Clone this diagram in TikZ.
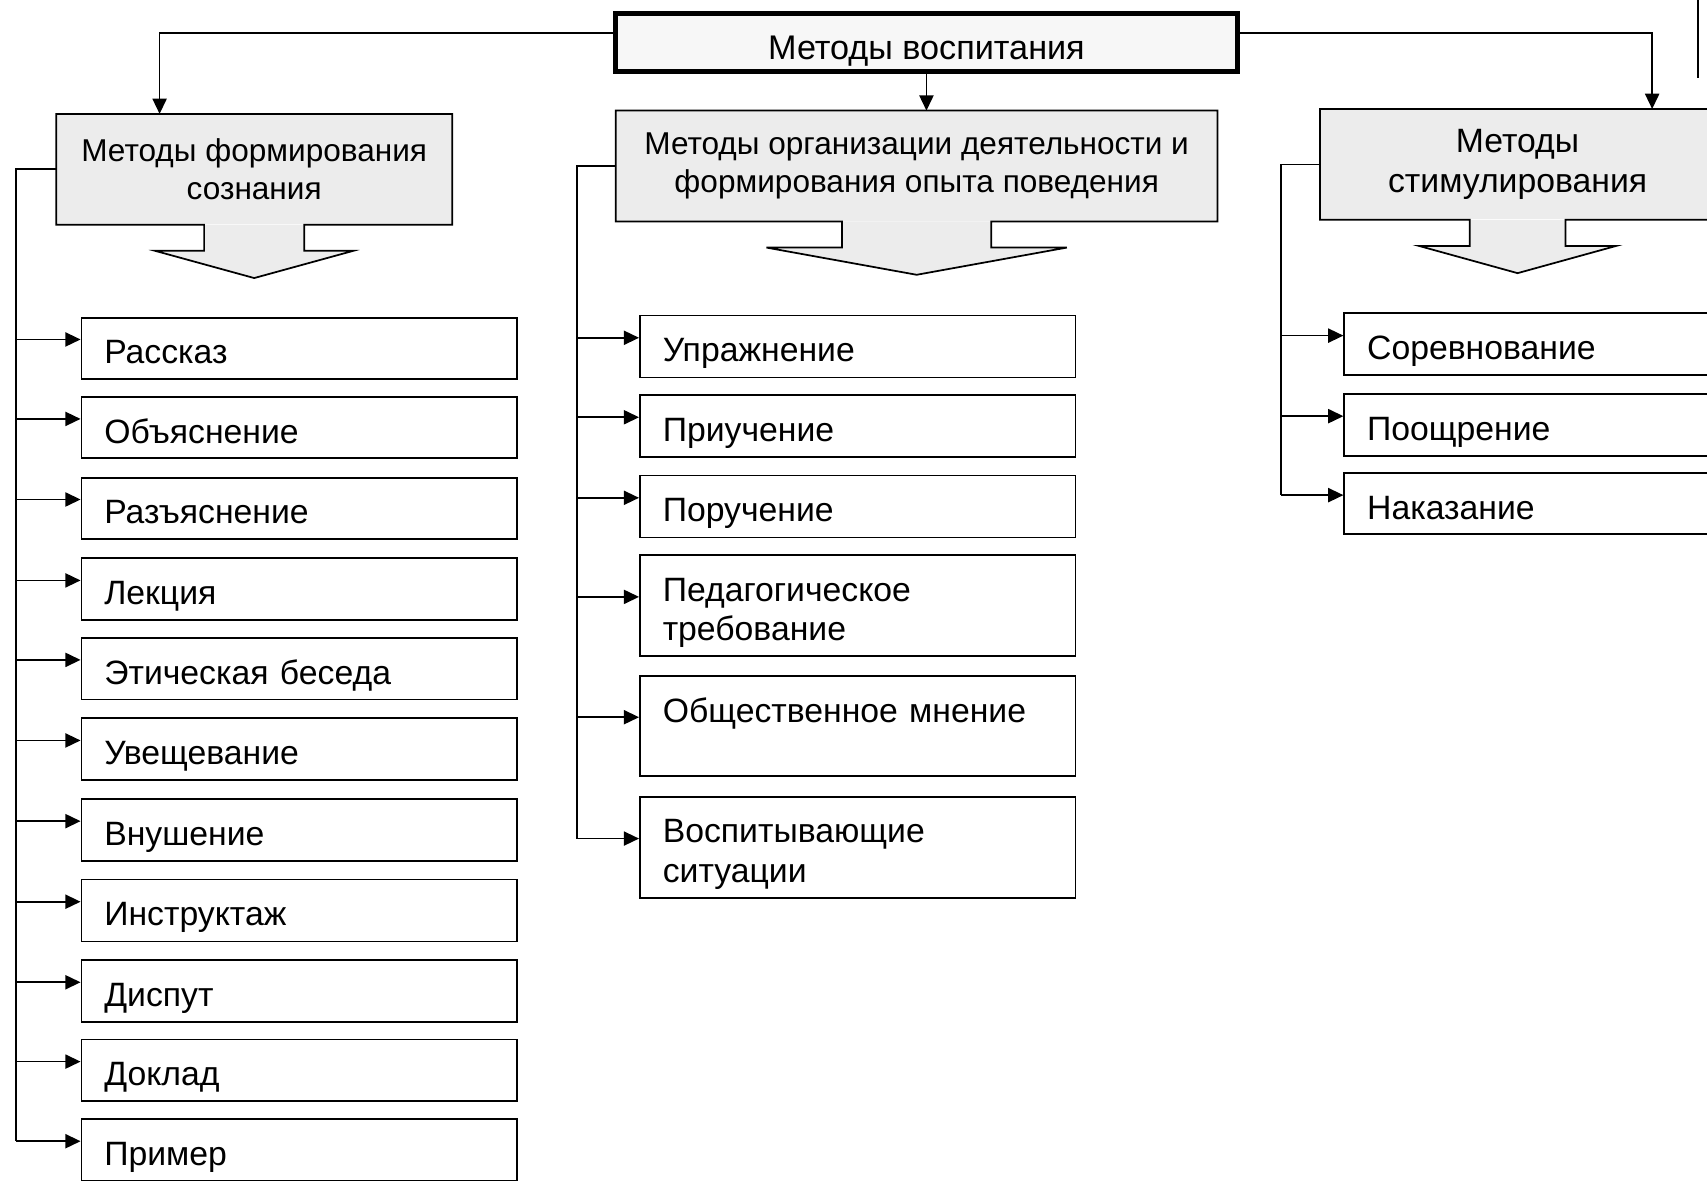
\documentclass[tikz,border=0pt]{standalone}
\usepackage{fontspec}
\setmainfont{Liberation Sans}
\usetikzlibrary{arrows.meta,calc}
\definecolor{hdr_gray}{RGB}{236,236,236}
\newcommand{\boxfont}{\fontsize{15.5}{18}\selectfont}
\newcommand{\hdrfont}{\fontsize{14.5}{17.5}\selectfont}
\newcommand{\topstrut}{\rule{0pt}{17.25pt}}
\newcommand{\botstrut}{\rule[-2.75pt]{0pt}{2.75pt}}
\tikzstyle{link}=[line width=0.8pt]
\tikzstyle{arr}=[line width=0.8pt,-{Triangle[length=7pt,width=6.5pt]}]
\tikzstyle{rootbox}=[rectangle,draw=black,fill=black!3,line width=2.5pt,inner ysep=0pt,
  minimum width=285.5pt,text height=21.25pt,text depth=5.25pt,font=\fontsize{15.7}{18}\selectfont]
\tikzstyle{hdr}=[rectangle,fill=hdr_gray,align=center,minimum height=50.5pt,font=\hdrfont]
\tikzstyle{itembox}=[rectangle,draw=black,line width=0.8pt,anchor=north west,
  text width=179pt,inner xsep=10.5pt,inner ysep=4pt,align=left,font=\boxfont]
% header box with the wide arrow below it
\newcommand{\hdrarrow}[3]{%
  \fill[hdr_gray] ($(#1.south)+(#2,0)$) -- ($(#1.south)+(#2,24)$) -- ($(#1.south)+(#3,24)$)
    -- ($(#1.south)+(0,49)$) -- ($(#1.south)+(-#3,24)$) -- ($(#1.south)+(-#2,24)$)
    -- ($(#1.south)+(-#2,0)$) -- cycle;
  \draw[link] (#1.north west) -- (#1.north east) -- (#1.south east)
    -- ($(#1.south)+(#2,0)$) -- ($(#1.south)+(#2,24)$) -- ($(#1.south)+(#3,24)$)
    -- ($(#1.south)+(0,49)$) -- ($(#1.south)+(-#3,24)$) -- ($(#1.south)+(-#2,24)$)
    -- ($(#1.south)+(-#2,0)$) -- (#1.south west) -- cycle;}

\begin{document}
\begin{tikzpicture}[x=0.5pt,y=-0.5pt]
    \useasboundingbox (0,0) rectangle (1568,1084);
    \fill[white] (0,0) rectangle (1568,1084);
    \clip (0,0) rectangle (1568,1084);

    \node[rootbox] (vosp) at (851,39) {Методы воспитания};
    \node[hdr,minimum width=181.5pt] (soz) at (233.5,155.5) {Методы формирования\\сознания};
    \node[hdr,minimum width=276pt] (deyat) at (842,152.5) {Методы организации деятельности и\\формирования опыта поведения};
    \node[hdr,minimum width=181pt,font=\fontsize{15.5}{18.5}\selectfont] (stim) at (1394,151) {Методы\\стимулирования};
    \hdrarrow{soz}{46}{91}
    \hdrarrow{deyat}{68.5}{138}
    \hdrarrow{stim}{44}{90.5}

    \draw[arr] ([yshift=4.5pt]vosp.west) -| ($(soz.north west)+(95,0)$);
    \draw[arr] (vosp.south) -- (vosp.south |- deyat.north);
    \draw[arr] ([yshift=4.5pt]vosp.east) -| ($(stim.north west)+(305,0)$);
    \draw[link] (1560,0) -- (1560,72);

    \foreach \n/\y/\txt in {1/291/Рассказ,2/364/Объяснение,3/438/Разъяснение,
        4/512/Лекция,5/585/Этическая беседа,6/659/Увещевание,7/733/Внушение,
        8/807/Инструктаж,9/881/Диспут,10/954/Доклад,11/1027/Пример}
      \node[itembox] (s\n) at (74,\y) {\topstrut\txt\botstrut};
    \foreach \n/\y/\txt in {1/289/Упражнение,2/362/Приучение,3/436/Поручение,
        4/509/{Педагогическое\\требование},5/620/{Общественное мнение\\\mbox{}},
        6/731/{Воспитывающие\\ситуации}}
      \node[itembox] (d\n) at (587,\y) {\topstrut\txt\botstrut};
    \foreach \n/\y/\txt in {1/287/Соревнование,2/361/Поощрение,3/434/Наказание}
      \node[itembox] (t\n) at (1234,\y) {\topstrut\txt\botstrut};

    \coordinate (ta) at (15,160);
    \coordinate (tb) at (530,160);
    \coordinate (tc) at (1177,157);
    \draw[link] (soz.west) -- (soz.west -| ta) -- ([yshift=4pt]s11.west -| ta);
    \draw[link] (deyat.west) -- (deyat.west -| tb) -- ([yshift=4pt]d6.west -| tb);
    \draw[link] (stim.west) -- (stim.west -| tc) -- ([yshift=4pt]t3.west -| tc);
    \foreach \n in {1,...,11}
      \draw[arr] ([yshift=4pt]s\n.west -| ta) -- ([yshift=4pt]s\n.west);
    \foreach \n in {1,...,6}
      \draw[arr] ([yshift=4pt]d\n.west -| tb) -- ([yshift=4pt]d\n.west);
    \foreach \n in {1,...,3}
      \draw[arr] ([yshift=4pt]t\n.west -| tc) -- ([yshift=4pt]t\n.west);
\end{tikzpicture}
\end{document}
